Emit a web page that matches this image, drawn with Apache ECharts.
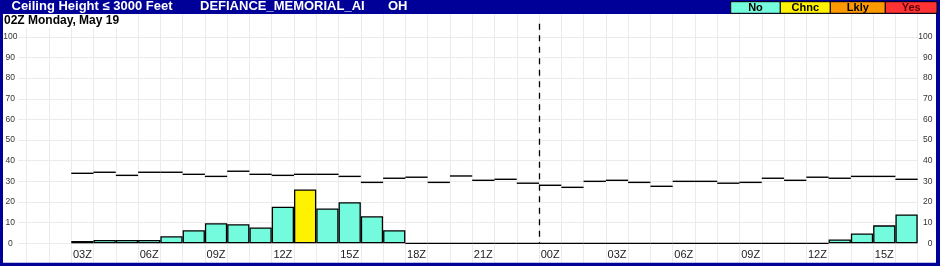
<!DOCTYPE html>
<html><head><meta charset="utf-8">
<script src="https://cdn.jsdelivr.net/npm/echarts@6/dist/echarts.min.js"></script>
<style>html,body{margin:0;padding:0;background:#fff}#c{width:940px;height:266px}</style>
</head><body><div id="c"></div><script>
// ---- data ----
const hours = ['01Z','02Z','03Z','04Z','05Z','06Z','07Z','08Z','09Z','10Z','11Z','12Z','13Z','14Z','15Z','16Z','17Z','18Z','19Z','20Z','21Z','22Z','23Z',
               '00Z','01Z','02Z','03Z','04Z','05Z','06Z','07Z','08Z','09Z','10Z','11Z','12Z','13Z','14Z','15Z','16Z'];
const probability = [null,null,1.1,1.6,1.6,1.6,3.4,6.3,9.7,9.2,7.7,17.7,26.1,16.9,19.9,13.1,6.3,0,0,0,0,0,0,
                     0,0,0,0,0,0,0,0,0,0,0,0,0,1.9,4.8,8.7,14.0];
const climatology = [null,null,33.9,34.4,32.9,34.4,34.4,33.4,32.4,34.9,33.4,32.9,33.4,33.4,32.4,29.5,31.5,32.0,29.5,32.6,30.5,31.0,29.1,
                     28.1,27.1,30.0,30.5,29.5,27.6,30.0,30.0,29.1,29.5,31.5,30.5,32.0,31.5,32.4,32.4,31.0];
const yTicks = [0,10,20,30,40,50,60,70,80,90,100];
const dayBreakIndex = 23; // second 00Z
const legendLabels = ['No','Chnc','Lkly','Yes'];
const chartTitle = 'Ceiling Height \u2264 3000 Feet';
const stationName = 'DEFIANCE_MEMORIAL_AI';
const stateName = 'OH';
const issueText = '02Z Monday, May 19';

// ---- styles ----
const NAVY = '#000099';
const COLORS = {No:'#74FADC', Chnc:'#FFF200', Lkly:'#FF9900', Yes:'#FF3333'};
const GRIDC = '#ebebeb';
function levelColor(v){
  if (v >= 75) return COLORS.Yes;
  if (v >= 50) return COLORS.Lkly;
  if (v >= 25) return COLORS.Chnc;
  return COLORS.No;
}

const chart = echarts.init(document.getElementById('c'), null, {renderer:'canvas'});
const L = 26.7, R = 22.3, T = 36.8, B = 22.7;

const legendBoxes = [[730.7,49.6],[780.3,50],[830.3,55],[885.3,51.7]];
const graphics = [];
graphics.push({type:'rect', z:100, shape:{x:0,y:0,width:940,height:14}, style:{fill:NAVY}});
graphics.push({type:'rect', z:100, shape:{x:0,y:0,width:3,height:266}, style:{fill:NAVY}});
graphics.push({type:'rect', z:100, shape:{x:936,y:0,width:4,height:266}, style:{fill:NAVY}});
graphics.push({type:'rect', z:100, shape:{x:0,y:262.7,width:940,height:4}, style:{fill:NAVY}});
graphics.push({type:'text', z:101, style:{text:chartTitle, x:11.5, y:6.6, fill:'#fff', fontSize:13, fontWeight:'bold', fontFamily:'Liberation Sans', verticalAlign:'middle'}});
graphics.push({type:'text', z:101, style:{text:stationName, x:200, y:6.6, fill:'#fff', fontSize:13, fontWeight:'bold', fontFamily:'Liberation Sans', verticalAlign:'middle'}});
graphics.push({type:'text', z:101, style:{text:stateName, x:388, y:6.6, fill:'#fff', fontSize:13, fontWeight:'bold', fontFamily:'Liberation Sans', verticalAlign:'middle'}});
legendLabels.forEach((lab,i)=>{
  const [x,w] = legendBoxes[i];
  graphics.push({type:'rect', z:101, shape:{x:x,y:1.7,width:w,height:11.6}, style:{fill:COLORS[lab], stroke:'#000', lineWidth:1}});
  graphics.push({type:'text', z:102, style:{text:lab, x:x+w/2, y:7.8, fill: lab==='Yes' ? '#5a0000' : '#000', fontSize:11, fontWeight:'bold', fontFamily:'Liberation Sans', align:'center', verticalAlign:'middle'}});
});
graphics.push({type:'rect', z:50, shape:{x:3,y:14,width:124,height:14}, style:{fill:'#fff'}});
graphics.push({type:'text', z:51, style:{text:issueText, x:4, y:20.4, fill:'#000', fontSize:12, fontWeight:'bold', fontFamily:'Liberation Sans', verticalAlign:'middle'}});

const labelFont = {fontFamily:'Liberation Sans', color:'#333'};

chart.setOption({
  animation:false,
  grid:[
    {left:L, right:R, top:T, bottom:B},
    {left:L, right:R, top:14, bottom:3.3},
    {left:18, right:R, top:T, bottom:B}
  ],
  xAxis:[
    {gridIndex:0, type:'category', data:hours, boundaryGap:true,
     axisLine:{show:false}, axisTick:{show:false}, splitLine:{show:false},
     axisLabel:Object.assign({fontSize:11, margin:6, color:'#222',
       interval:(i,v)=> parseInt(v,10)%3===0}, {fontFamily:'Liberation Sans'})},
    {gridIndex:1, type:'category', data:hours, boundaryGap:true,
     axisLine:{show:false}, axisTick:{show:false}, axisLabel:{show:false},
     splitLine:{show:true, interval:0, lineStyle:{color:GRIDC, width:1}}},
    {gridIndex:2, type:'value', show:false, min:0, max:1}
  ],
  yAxis:[
    {gridIndex:0, type:'value', min:0, max:100, interval:10, position:'left',
     axisLine:{show:false}, axisTick:{show:false}, splitLine:{show:false},
     axisLabel:Object.assign({fontSize:8.5, align:'center', margin:16.4}, labelFont)},
    {gridIndex:0, type:'value', min:0, max:100, interval:10, position:'right',
     axisLine:{show:false}, axisTick:{show:false}, splitLine:{show:false},
     axisLabel:Object.assign({fontSize:8.5, align:'right', margin:14.8}, labelFont)},
    {gridIndex:1, type:'value', show:false, min:0, max:1},
    {gridIndex:2, type:'value', min:0, max:100, interval:10,
     axisLine:{show:false}, axisTick:{show:false}, axisLabel:{show:false},
     splitLine:{show:true, lineStyle:{color:GRIDC, width:1}}}
  ],
  series:[
    {type:'bar', xAxisIndex:0, yAxisIndex:0, barCategoryGap:'0%', barGap:'0%',
     data: probability.map(v => v===null ? null : {value:v, itemStyle:{color:levelColor(v)}}),
     itemStyle:{borderColor:'#000', borderWidth:1.3}, z:3},
    {type:'custom', xAxisIndex:0, yAxisIndex:0, clip:false, z:4,
     data: climatology.map((v,i)=> v===null ? null : [i,v]).filter(d=>d),
     renderItem:(params, api)=>{
       const p = api.coord([api.value(0), api.value(1)]);
       const w = api.size([1,0])[0];
       return {type:'line', shape:{x1:p[0]-w/2, y1:p[1], x2:p[0]+w/2, y2:p[1]},
               style:{stroke:'#000', lineWidth:1.4}};
     }},
    {type:'custom', xAxisIndex:0, yAxisIndex:0, clip:false, z:4,
     data:[[dayBreakIndex, 0]],
     renderItem:(params, api)=>{
       const p0 = api.coord([api.value(0), 0]);
       const p1 = api.coord([api.value(0), 100]);
       const w = api.size([1,0])[0];
       const x = Math.round(p0[0]-w/2)+0.5;
       return {type:'line', shape:{x1:x, y1:p1[1]-13, x2:x, y2:p0[1]},
               style:{stroke:'#000', lineWidth:1.3, lineDash:[6,5.5]}};
     }}
  ],
  graphic: graphics
});
</script></body></html>
